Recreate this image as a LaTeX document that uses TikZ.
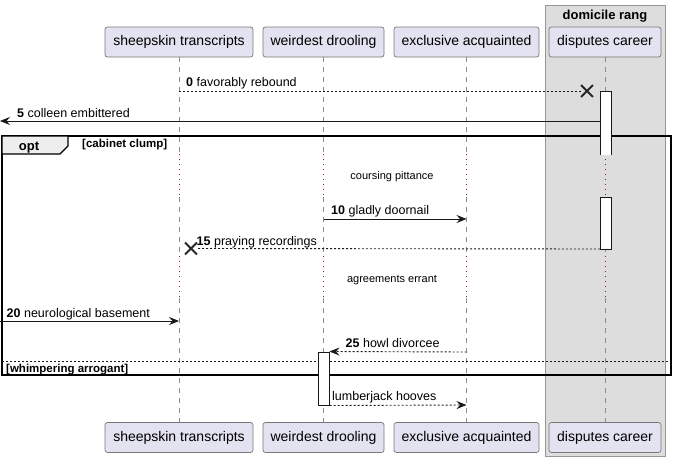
\documentclass[tikz,border=0pt]{standalone}
\usepackage{fontspec}
\setmainfont{Liberation Sans}
\usetikzlibrary{arrows.meta,shapes.misc}
\definecolor{partfill}{RGB}{226,226,240}
\definecolor{partdraw}{RGB}{120,120,120}
\definecolor{grpfill}{RGB}{221,221,221}
\definecolor{grpdraw}{RGB}{150,150,150}
\definecolor{delaycol}{RGB}{150,20,70}
\definecolor{tabfill}{RGB}{238,238,238}
\begin{document}
\begin{tikzpicture}[x=1pt,y=-1pt,
  part/.style={draw=partdraw, fill=partfill, rounded corners=2.5pt, line width=0.7pt, minimum height=30pt, inner sep=0pt, font=\fontsize{14}{16}\selectfont},
  lifeline/.style={draw=black!45, line width=0.8pt, dash pattern=on 5pt off 5pt},
  delayline/.style={draw=delaycol, line width=1pt, dash pattern=on 1pt off 4pt},
  msg/.style={draw=black!90, line width=0.9pt},
  msgd/.style={msg, dash pattern=on 2pt off 2pt},
  tip/.style={-{Stealth[length=10pt,width=8pt,inset=3.5pt]}},
  lbl/.style={font=\fontsize{12.5}{14}\selectfont, anchor=base west, inner sep=0pt},
  dlbl/.style={font=\fontsize{11}{13}\selectfont, anchor=base, inner sep=0pt},
  act/.style={fill=white, draw=black!90, line width=1pt},
  xmark/.style={cross out, draw=black!85, line width=1.8pt, minimum size=10pt, inner sep=0pt},
  grplbl/.style={font=\bfseries\fontsize{11.5}{13}\selectfont, anchor=base west, inner sep=0pt}
]
\useasboundingbox (0,0) rectangle (677,463);
% group box
\node[draw=grpdraw, fill=grpfill, line width=0.8pt, minimum width=120pt, minimum height=451pt, inner sep=0pt] (grp) at (605,231) {};
\node[font=\bfseries\fontsize{13}{15}\selectfont, anchor=base, inner sep=0pt] (grpt) at (605,19) {domicile rang};
% participants
\node[part, minimum width=148pt] (sheepT) at (179,42) {sheepskin transcripts};
\node[part, minimum width=121pt] (weirdT) at (323.5,42) {weirdest drooling};
\node[part, minimum width=145pt] (exclT) at (466.5,42) {exclusive acquainted};
\node[part, minimum width=112pt] (dispT) at (605,42) {disputes career};
\node[part, minimum width=148pt] (sheepB) at (179,437.5) {sheepskin transcripts};
\node[part, minimum width=121pt] (weirdB) at (323.5,437.5) {weirdest drooling};
\node[part, minimum width=145pt] (exclB) at (466.5,437.5) {exclusive acquainted};
\node[part, minimum width=112pt] (dispB) at (605,437.5) {disputes career};
% delay boundaries
\coordinate (da) at (0,154);
\coordinate (db) at (0,197);
\coordinate (dc) at (0,256);
\coordinate (dd) at (0,298);
\foreach \p in {sheep,weird,excl,disp}{
  \draw[lifeline] (\p T.south) -- (\p T.south |- da);
  \draw[delayline] (\p T.south |- da) -- (\p T.south |- db);
  \draw[lifeline] (\p T.south |- db) -- (\p T.south |- dc);
  \draw[delayline] (\p T.south |- dc) -- (\p T.south |- dd);
  \draw[lifeline] (\p T.south |- dd) -- (\p B.north);
}
% opt frame
\draw[black, line width=1.6pt] (2,136) rectangle (671,375);
\draw[fill=tabfill, draw=black, line width=1.2pt] (2,136) -- (68,136) -- (68,146) -- (60,154) -- (2,154) -- cycle;
\node[font=\bfseries\fontsize{13}{15}\selectfont, anchor=base, inner sep=0pt] (optl) at (29,150) {opt};
\node[grplbl] (g1) at (82,147) {[cabinet clump]};
\coordinate (elsea) at (2,361);
\coordinate (elseb) at (671,361);
\draw[msgd] (elsea) -- (elseb);
\node[grplbl] (g2) at (6,372) {[whimpering arrogant]};
% activations
\fill[white] (600,91) rectangle (611,155);
\draw[draw=black!90, line width=1pt] (600,155) -- (600,91) -- (611,91) -- (611,155);
\node[act, minimum width=11pt, minimum height=52pt, inner sep=0pt] (actD) at (605.5,223) {};
\node[act, minimum width=11pt, minimum height=53pt, inner sep=0pt] (actW) at (323.5,378.5) {};
% delay texts
\node[dlbl] (dl1) at (392,179) {coursing pittance};
\node[dlbl] (dl2) at (392,282.5) {agreements errant};
% message 0
\coordinate (m0a) at (179,91);
\node[xmark] (x0) at (587,91) {};
\draw[msgd] (m0a) -- (x0.west);
\node[lbl] (l0) at (186,86) {\textbf{0} favorably rebound};
% message 5
\coordinate (m5a) at (600,121);
\coordinate (m5b) at (0,121);
\draw[msg, tip] (m5a) -- (m5b);
\node[lbl] (l5) at (17,117) {\textbf{5} colleen embittered};
% message 10
\coordinate (m10a) at (323.5,219);
\coordinate (m10b) at (466.5,219);
\draw[msg, tip] (m10a) -- (m10b);
\node[lbl] (l10) at (331,214) {\textbf{10} gladly doornail};
% message 15
\coordinate (m15a) at (600,249);
\node[xmark] (x15) at (191,248.5) {};
\draw[msgd] (m15a) -- (x15.east);
\node[lbl] (l15) at (196.5,245) {\textbf{15} praying recordings};
% message 20
\coordinate (m20a) at (0,321);
\coordinate (m20b) at (179,321);
\draw[msg, tip] (m20a) -- (m20b);
\node[lbl] (l20) at (6.5,317) {\textbf{20} neurological basement};
% message 25
\coordinate (m25a) at (466.5,352);
\draw[msgd, tip] (m25a) -- (actW.north east);
\node[lbl] (l25) at (345.5,347) {\textbf{25} howl divorcee};
% lumberjack
\coordinate (mlb) at (466.5,405);
\draw[msgd, tip] (actW.south east) -- (mlb);
\node[lbl] (llb) at (332,400) {lumberjack hooves};
\end{tikzpicture}
\end{document}
